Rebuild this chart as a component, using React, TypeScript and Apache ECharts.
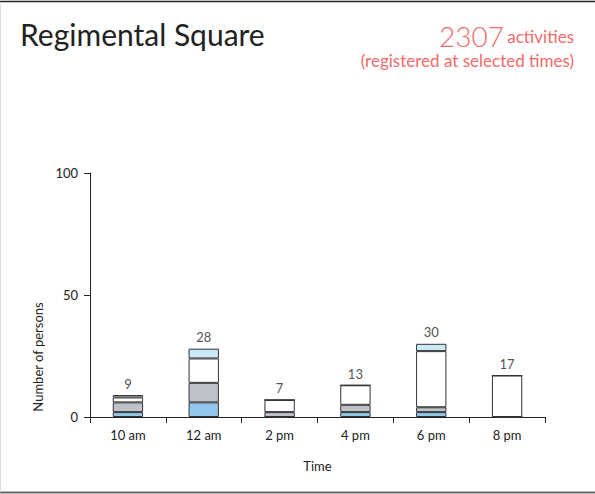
import React, { useEffect, useRef } from "react";
import * as echarts from "echarts";

const categories = ["10 am", "12 am", "2 pm", "4 pm", "6 pm", "8 pm"];
const blueValues = [2, 6, 0, 2, 2, 0];
const grayValues = [4, 8, 2, 3, 2, 0];
const whiteValues = [2, 10, 5, 8, 23, 17];
const lightBlueValues = [1, 4, 0, 0, 3, 0];
const totals = [9, 28, 7, 13, 30, 17];
const yTicks = [0, 50, 100];

const FONT = "Lato, 'Open Sans', sans-serif";

export default function App() {
  const ref = useRef<HTMLDivElement>(null);
  useEffect(() => {
    document.body.style.margin = "0";
    const chart = echarts.init(ref.current!, undefined, { renderer: "svg" });
    const seg = (name: string, data: number[], color: string) => ({
      name,
      type: "bar",
      stack: "s",
      data,
      barWidth: "40%",
      itemStyle: { color, borderColor: "#333", borderWidth: 1 },
    });
    chart.setOption({
      animation: false,
      textStyle: { fontFamily: FONT },
      grid: { left: 90, right: 50, top: 173, bottom: 77, containLabel: false },
      xAxis: {
        type: "category",
        data: categories,
        name: "Time",
        nameLocation: "middle",
        nameGap: 42,
        nameTextStyle: { fontSize: 13, color: "#222", fontFamily: FONT },
        axisLine: { lineStyle: { color: "#222", width: 1 } },
        axisTick: { show: true, length: 6, lineStyle: { color: "#222" } },
        axisLabel: { fontSize: 13, color: "#222", margin: 11, fontFamily: FONT },
      },
      yAxis: {
        type: "value",
        min: 0,
        max: 100,
        interval: 50,
        axisLine: { show: true, lineStyle: { color: "#222", width: 1 } },
        axisTick: { show: true, length: 6, lineStyle: { color: "#222" } },
        axisLabel: {
          fontSize: 13,
          color: "#222",
          margin: 12,
          fontFamily: FONT,
          formatter: (v: number) => (yTicks.includes(v) ? String(v) : ""),
        },
        splitLine: { show: false },
      },
      series: [
        seg("blue", blueValues, "#92c7ec"),
        seg("gray", grayValues, "#bec2c9"),
        seg("white", whiteValues, "#ffffff"),
        seg("lightblue", lightBlueValues, "#c9e9f6"),
        {
          name: "total",
          type: "scatter",
          data: totals,
          symbolSize: 0,
          silent: true,
          label: {
            show: true,
            position: "top",
            distance: 5,
            fontSize: 13,
            color: "#222",
            fontFamily: FONT,
          },
        },
      ],
      graphic: [
        { type: "line", shape: { x1: 0, y1: 1.5, x2: 595, y2: 1.5 }, style: { stroke: "#222", lineWidth: 1.5 } },
        { type: "line", shape: { x1: 0, y1: 492.5, x2: 595, y2: 492.5 }, style: { stroke: "#666", lineWidth: 2 } },
        { type: "line", shape: { x1: 0.5, y1: 2, x2: 0.5, y2: 492 }, style: { stroke: "#ddd", lineWidth: 1 } },
        {
          type: "text",
          left: 20,
          top: 19,
          style: { text: "Regimental Square", font: `400 30px ${FONT}`, fill: "#222" },
        },
        {
          type: "text",
          right: 21,
          top: 22,
          style: {
            text: "{big|2307} {small|activities}",
            rich: {
              big: { fontSize: 28, fontFamily: FONT, fontWeight: 300, fill: "#f06b6b", color: "#f06b6b" },
              small: { fontSize: 17, fontFamily: FONT, fontWeight: 400, fill: "#f06b6b", color: "#f06b6b" },
            },
          },
        },
        {
          type: "text",
          right: 21,
          top: 52,
          style: { text: "(registered at selected times)", font: `400 17px ${FONT}`, fill: "#f06b6b" },
        },
        {
          type: "text",
          x: 38,
          y: 357,
          rotation: Math.PI / 2,
          style: {
            text: "Number of persons",
            font: `13px ${FONT}`,
            fill: "#222",
            textAlign: "center",
            textVerticalAlign: "middle",
          },
        },
      ],
    });
    return () => chart.dispose();
  }, []);
  return <div ref={ref} style={{ width: 595, height: 494 }} />;
}
